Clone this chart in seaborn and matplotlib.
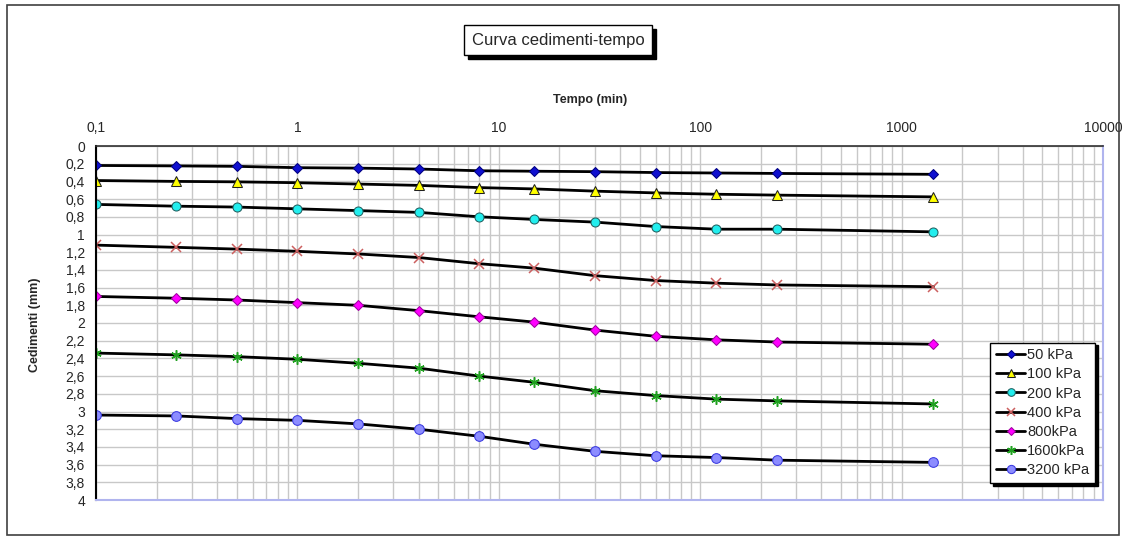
import numpy as np
import pandas as pd
import matplotlib
matplotlib.use('Agg')
import matplotlib.pyplot as plt
import matplotlib.ticker as mticker
from matplotlib.patches import Rectangle
import seaborn as sns

# Time steps (min) and settlement readings (mm) for each load step
tempo = [0.1, 0.25, 0.5, 1, 2, 4, 8, 15, 30, 60, 120, 240, 1440]

ced_50 = [0.22, 0.225, 0.23, 0.245, 0.25, 0.26, 0.28, 0.285, 0.29, 0.30, 0.305, 0.31, 0.32]
ced_100 = [0.39, 0.40, 0.405, 0.415, 0.43, 0.445, 0.47, 0.485, 0.51, 0.53, 0.545, 0.555, 0.575]
ced_200 = [0.66, 0.68, 0.69, 0.71, 0.73, 0.75, 0.80, 0.83, 0.86, 0.91, 0.94, 0.94, 0.97]
ced_400 = [1.12, 1.145, 1.165, 1.19, 1.22, 1.26, 1.33, 1.38, 1.465, 1.52, 1.55, 1.57, 1.59]
ced_800 = [1.70, 1.72, 1.74, 1.77, 1.80, 1.86, 1.93, 1.99, 2.08, 2.15, 2.19, 2.215, 2.24]
ced_1600 = [2.34, 2.36, 2.38, 2.41, 2.455, 2.51, 2.60, 2.67, 2.765, 2.82, 2.86, 2.88, 2.915]
ced_3200 = [3.04, 3.05, 3.08, 3.10, 3.14, 3.20, 3.28, 3.37, 3.45, 3.50, 3.52, 3.55, 3.575]

carichi = ['50 kPa', '100 kPa', '200 kPa', '400 kPa', '800kPa', '1600kPa', '3200 kPa']
serie = [ced_50, ced_100, ced_200, ced_400, ced_800, ced_1600, ced_3200]

x_ticks = [0.1, 1, 10, 100, 1000, 10000]
x_labels = ['0,1', '1', '10', '100', '1000', '10000']

# marker styles, Excel look
stili = [
    dict(marker='D', markersize=5, markerfacecolor='#1010d0', markeredgecolor='#000080'),
    dict(marker='^', markersize=7, markerfacecolor='#ffff00', markeredgecolor='#202020'),
    dict(marker='o', markersize=6.5, markerfacecolor='#22eeee', markeredgecolor='#206060'),
    dict(marker='x', markersize=7, markeredgecolor='#cc6060', markeredgewidth=1.1),
    dict(marker='D', markersize=5, markerfacecolor='#ff00ff', markeredgecolor='#a000a0'),
    dict(marker=(6, 2, 0), markersize=7.5, markeredgecolor='#20a020', markeredgewidth=1.1),
    dict(marker='o', markersize=7, markerfacecolor='#8c8cff', markeredgecolor='#3a3ae0'),
]

sns.set_style('white')
plt.rcParams['font.family'] = ['Liberation Sans', 'DejaVu Sans']

fig = plt.figure(figsize=(11.26, 5.38), dpi=100)
ax = fig.add_axes([96 / 1126, 1 - 500 / 538, 1007 / 1126, 354 / 538])

for nome, valori, st in zip(carichi, serie, stili):
    sns.lineplot(x=tempo, y=valori, ax=ax, color='black', linewidth=2,
                 label=nome, **st)

ax.set_xscale('log')
ax.set_xlim(0.1, 10000)
ax.set_ylim(4, 0)

ax.xaxis.tick_top()
ax.set_xticks(x_ticks)
ax.set_xticklabels(x_labels)
ax.xaxis.set_minor_locator(mticker.LogLocator(base=10, subs=np.arange(2, 10)))
ax.xaxis.set_minor_formatter(mticker.NullFormatter())

y_ticks = np.arange(0, 4.01, 0.2)
ax.set_yticks(y_ticks)
ax.set_yticklabels([('%g' % round(v, 1)).replace('.', ',') for v in y_ticks])

ax.grid(True, which='both', color='#c8c8c8', linewidth=1)
ax.set_axisbelow(True)
ax.tick_params(axis='both', which='both', length=0, labelsize=10, pad=8)

ax.spines['left'].set_color('black')
ax.spines['left'].set_linewidth(1.5)
ax.spines['top'].set_color('#303030')
ax.spines['top'].set_linewidth(1.2)
ax.spines['right'].set_color('#b0b4ee')
ax.spines['bottom'].set_color('#b0b4ee')
ax.spines['right'].set_linewidth(1.5)
ax.spines['bottom'].set_linewidth(1.5)

ax.set_xlabel('')
ax.set_ylabel('')
fig.text(590 / 1126, 1 - 100 / 538, 'Tempo (min)', ha='center', va='center',
         fontsize=9, fontweight='bold')
fig.text(35 / 1126, 1 - 325 / 538, 'Cedimenti (mm)', ha='center', va='center',
         fontsize=9, fontweight='bold', rotation=90)

# title box, shadow added below once the box size is known
titolo = fig.text(558 / 1126, 1 - 40 / 538, 'Curva cedimenti-tempo', ha='center',
                  va='center', fontsize=12, zorder=5,
                  bbox=dict(boxstyle='square,pad=0.45', facecolor='white',
                            edgecolor='black', linewidth=1))

leg = ax.legend(loc='lower left', bbox_to_anchor=(0.881, 0.028), fontsize=10.5,
                frameon=True, fancybox=False, edgecolor='black', framealpha=1,
                handlelength=2.0, handletextpad=0.1, labelspacing=0.35,
                borderpad=0.4, markerscale=0.85,
                shadow={'color': 'black', 'alpha': 1})
leg.get_frame().set_linewidth(1)

fig.canvas.draw()
bb = titolo.get_bbox_patch().get_window_extent().transformed(fig.transFigure.inverted())
fig.patches.append(Rectangle((bb.x0 + 4 / 1126, bb.y0 - 4 / 538), bb.width, bb.height,
                             transform=fig.transFigure, facecolor='black',
                             edgecolor='black', zorder=4))

# outer border of the chart area
fig.patches.append(Rectangle((7 / 1126, 3 / 538), 1112 / 1126, 530 / 538,
                             transform=fig.transFigure, fill=False,
                             edgecolor='#404040', linewidth=1.2))

fig.savefig('out.png', dpi=100)
